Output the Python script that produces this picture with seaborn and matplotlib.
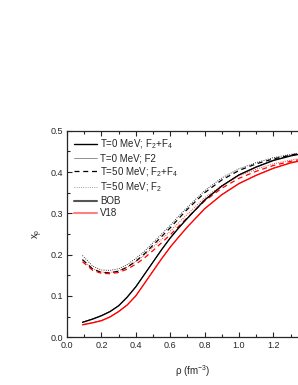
import numpy as np
import pandas as pd
import matplotlib
matplotlib.use('Agg')
import matplotlib.pyplot as plt
from matplotlib.lines import Line2D
from matplotlib.ticker import MultipleLocator
import seaborn as sns

# density grid (fm^-3)
rho = [0.09, 0.15, 0.2, 0.25, 0.3, 0.35, 0.4, 0.45, 0.5, 0.55, 0.6, 0.65, 0.7,
       0.8, 0.9, 1.0, 1.1, 1.2, 1.3, 1.4, 1.5]

# proton fraction, BOB (black)
bob_t0_f24 = [0.036, 0.044, 0.052, 0.062, 0.076, 0.097, 0.122, 0.152, 0.182, 0.212,
              0.240, 0.265, 0.288, 0.332, 0.366, 0.393, 0.412, 0.428, 0.439, 0.447, 0.453]
bob_t0_f2 = [0.037, 0.045, 0.053, 0.063, 0.077, 0.098, 0.123, 0.153, 0.183, 0.213,
             0.241, 0.266, 0.289, 0.333, 0.367, 0.394, 0.413, 0.429, 0.440, 0.448, 0.454]
bob_t50_f24 = [0.188, 0.165, 0.157, 0.156, 0.160, 0.170, 0.184, 0.202, 0.223, 0.244,
               0.265, 0.288, 0.310, 0.350, 0.381, 0.404, 0.420, 0.432, 0.441, 0.449, 0.455]
bob_t50_f2 = [0.198, 0.172, 0.163, 0.162, 0.166, 0.176, 0.191, 0.208, 0.229, 0.250,
              0.271, 0.294, 0.315, 0.355, 0.386, 0.408, 0.423, 0.435, 0.443, 0.450, 0.456]

# proton fraction, V18 (red)
v18_t0_f24 = [0.030, 0.035, 0.040, 0.049, 0.062, 0.078, 0.100, 0.130, 0.160, 0.190,
              0.218, 0.243, 0.267, 0.311, 0.345, 0.372, 0.392, 0.409, 0.422, 0.431, 0.438]
v18_t0_f2 = [0.031, 0.036, 0.041, 0.050, 0.063, 0.079, 0.101, 0.131, 0.161, 0.191,
             0.219, 0.244, 0.268, 0.312, 0.346, 0.373, 0.393, 0.410, 0.423, 0.432, 0.439]
v18_t50_f24 = [0.183, 0.162, 0.155, 0.154, 0.157, 0.165, 0.177, 0.192, 0.210, 0.229,
               0.248, 0.269, 0.290, 0.330, 0.361, 0.385, 0.402, 0.416, 0.426, 0.434, 0.440]
v18_t50_f2 = [0.188, 0.166, 0.158, 0.157, 0.161, 0.170, 0.183, 0.199, 0.218, 0.237,
              0.257, 0.278, 0.298, 0.338, 0.368, 0.391, 0.407, 0.420, 0.429, 0.437, 0.442]

sns.set_style('ticks')
plt.rcParams['font.family'] = ['Liberation Sans', 'DejaVu Sans']
plt.rcParams['mathtext.fontset'] = 'custom'
plt.rcParams['mathtext.rm'] = 'Liberation Sans'
plt.rcParams['mathtext.it'] = 'Liberation Sans:italic'

fig = plt.figure(figsize=(2.98, 3.85), dpi=100)
# axes run past the right edge of the figure, like the cropped original
ax = fig.add_axes([0.2248, 0.1239, 0.866, 0.5364])

styles = [
    (bob_t50_f2, 'black', ':', 0.6),
    (v18_t50_f2, 'red', ':', 0.6),
    (bob_t50_f24, 'black', (0, (4, 3)), 0.9),
    (v18_t50_f24, 'red', (0, (4, 3)), 0.9),
    (bob_t0_f2, 'black', '-', 0.5),
    (v18_t0_f2, 'red', '-', 0.5),
    (bob_t0_f24, 'black', '-', 0.9),
    (v18_t0_f24, 'red', '-', 0.9),
]
for vals, col, ls, lw in styles:
    sns.lineplot(x=rho, y=vals, color=col, linestyle=ls, linewidth=lw, ax=ax,
                 legend=False)

ax.set_xlim(0, 1.5)
ax.set_ylim(0, 0.5)
ax.set_xticks([0.0, 0.2, 0.4, 0.6, 0.8, 1.0, 1.2])
ax.xaxis.set_minor_locator(MultipleLocator(0.1))
ax.yaxis.set_major_locator(MultipleLocator(0.1))
ax.yaxis.set_minor_locator(MultipleLocator(0.05))
ax.tick_params(which='both', direction='in', top=True, right=True,
               labelsize=6.5, width=0.8, pad=3)
ax.tick_params(which='major', length=3.5)
ax.tick_params(which='minor', length=2)
for sp in ax.spines.values():
    sp.set_linewidth(0.9)

ax.set_xlabel('ρ (fm$^{-3}$)', fontsize=7, labelpad=7)
ax.xaxis.set_label_coords(0.488, -0.125)
ax.set_ylabel(r'x$_\mathrm{p}$', fontsize=7, labelpad=4)

handles = [
    Line2D([], [], color='black', lw=1.0, ls='-'),
    Line2D([], [], color='gray', lw=0.6, ls='-'),
    Line2D([], [], color='black', lw=0.9, ls=(0, (4, 3))),
    Line2D([], [], color='gray', lw=0.6, ls=':'),
    Line2D([], [], color='#555555', lw=1.5, ls='-'),
    Line2D([], [], color='#ff8080', lw=1.5, ls='-'),
]
labels = [r'T=0 MeV; F$_2$+F$_4$', 'T=0 MeV; F2', r'T=50 MeV; F$_2$+F$_4$',
          r'T=50 MeV; F$_2$', 'BOB', 'V18']
ax.legend(handles, labels, loc='upper left', bbox_to_anchor=(0.0, 1.0),
          frameon=False, fontsize=7, handlelength=2.4, handletextpad=0.3,
          labelspacing=0.2, borderaxespad=0.3)

fig.savefig('out.png', dpi=100)
